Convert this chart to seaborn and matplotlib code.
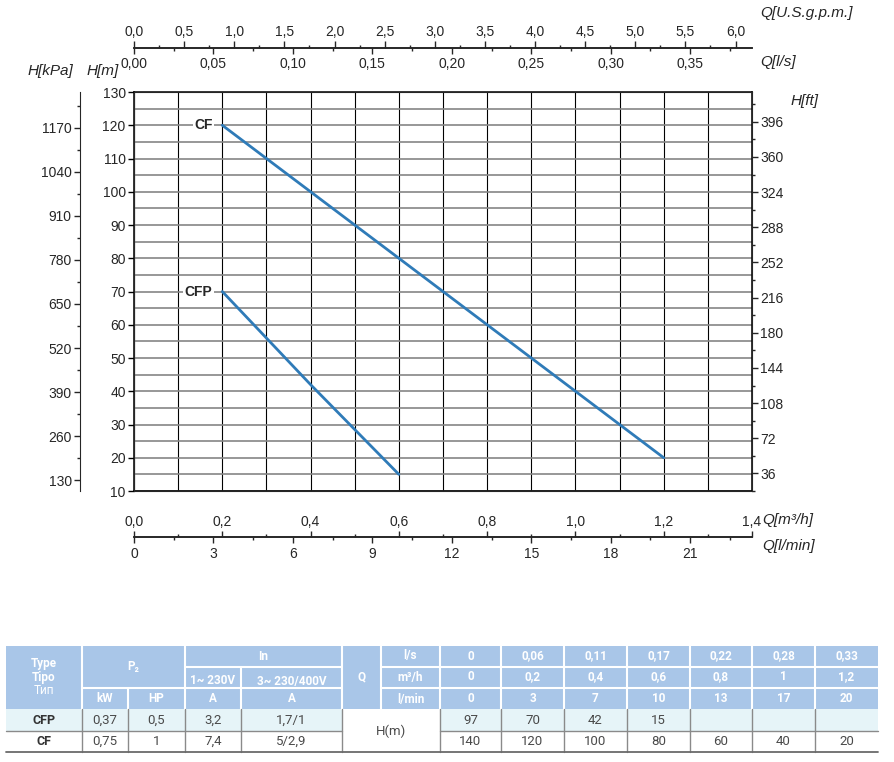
import numpy as np
import pandas as pd
import matplotlib
matplotlib.use('Agg')
import matplotlib.pyplot as plt
import seaborn as sns
from matplotlib.patches import Rectangle

# table / curve data
models = ['CFP', 'CF']
p2_kw = ['0,37', '0,75']
p2_hp = ['0,5', '1']
in_1ph = ['3,2', '7,4']
in_3ph = ['1,7/1', '5/2,9']
q_m3h = [0, 0.2, 0.4, 0.6, 0.8, 1.0, 1.2]
q_ls_lbl = ['0', '0,06', '0,11', '0,17', '0,22', '0,28', '0,33']
q_m3h_lbl = ['0', '0,2', '0,4', '0,6', '0,8', '1', '1,2']
q_lmin_lbl = ['0', '3', '7', '10', '13', '17', '20']
h_cfp = [97, 70, 42, 15, None, None, None]
h_cf = [140, 120, 100, 80, 60, 40, 20]

# axis scales
gpm_ticks = np.arange(0, 6.01, 0.5)
ls_ticks = np.arange(0, 0.351, 0.05)
m3h_ticks = np.arange(0, 1.41, 0.2)
lmin_ticks = np.arange(0, 22, 3)
kpa_ticks = np.arange(130, 1171, 130)
ft_ticks = np.arange(36, 397, 36)

GPM = 0.2271247   # m3/h per US gpm
LS = 3.6          # m3/h per l/s
LMIN = 0.06       # m3/h per l/min
KPA = 9.81        # kPa per m
FT = 3.2808       # ft per m

sns.set_style('ticks')
plt.rcParams['font.family'] = ['Liberation Sans', 'DejaVu Sans']

W, H = 894, 762
fig = plt.figure(figsize=(W / 100, H / 100), dpi=100)

def fx(px):
    return px / W

def fy(px):
    return 1 - px / H

def fmt(v, d):
    return f'{v:.{d}f}'.replace('.', ',')

L, R, T, B = 134, 752, 92, 491
ax = fig.add_axes([fx(L), fy(B), fx(R - L), (B - T) / H])

# curves, only the part inside the chart range
rows = []
for name, hs in zip(models, [h_cfp, h_cf]):
    for q, h in zip(q_m3h, hs):
        if h is not None and q >= 0.2:
            rows.append({'model': name, 'q': q, 'h': h})
df = pd.DataFrame(rows)
blue = '#2f7bb8'
sns.lineplot(data=df, x='q', y='h', hue='model', palette={'CF': blue, 'CFP': blue},
             legend=False, lw=2, ax=ax, zorder=5)
ax.set_xlim(0, 1.4)
ax.set_ylim(10, 130)
ax.set_xlabel('')
ax.set_ylabel('')
ax.set_xticks(np.arange(0, 1.41, 0.1))
ax.set_xticklabels([])
ax.tick_params(axis='x', length=0)
ax.set_yticks(np.arange(10, 131, 10))
ax.set_yticks(np.arange(15, 130, 10), minor=True)
ax.tick_params(axis='y', which='major', length=4, width=1, labelsize=10, pad=2, color='black')
ax.tick_params(axis='y', which='minor', length=0)
ax.grid(axis='x', color='black', lw=0.8)
ax.grid(axis='y', which='both', color='#858585', lw=1.2)
for s in ax.spines.values():
    s.set_color('black')
    s.set_linewidth(1.1)

for name, hs in zip(models, [h_cfp, h_cf]):
    ax.annotate(name, xy=(0.2, hs[1]), xytext=(-7, 0), textcoords='offset points',
                ha='right', va='center', fontsize=10, fontweight='bold', zorder=6,
                bbox=dict(fc='white', ec='none', pad=1))

# H[ft] on right
ax_ft = ax.twinx()
ax_ft.set_ylim(10 * FT, 130 * FT)
ax_ft.set_yticks(ft_ticks)
ax_ft.set_yticks(np.arange(18, 420, 36), minor=True)
ax_ft.set_yticklabels([str(int(v)) for v in ft_ticks])
ax_ft.tick_params(axis='y', which='major', length=4, width=1, labelsize=10, pad=2)
ax_ft.tick_params(axis='y', which='minor', length=2, width=1)
ax_ft.grid(False)

# H[kPa] on an outer left spine
ax_kpa = ax.twinx()
ax_kpa.set_ylim(10 * KPA, 130 * KPA)
ax_kpa.spines['left'].set_visible(True)
ax_kpa.spines['left'].set_position(('outward', (L - 80) * 0.72))
ax_kpa.spines['right'].set_visible(False)
ax_kpa.spines['top'].set_visible(False)
ax_kpa.spines['bottom'].set_visible(False)
ax_kpa.yaxis.set_ticks_position('left')
ax_kpa.yaxis.set_label_position('left')
ax_kpa.set_yticks(kpa_ticks)
ax_kpa.set_yticks(np.arange(195, 1280, 130), minor=True)
ax_kpa.set_yticklabels([str(int(v)) for v in kpa_ticks])
ax_kpa.tick_params(axis='y', which='major', length=4, width=1, labelsize=10, pad=2)
ax_kpa.tick_params(axis='y', which='minor', length=2, width=1)
ax_kpa.grid(False)


def line_axis(y_px, side):
    a = fig.add_axes([fx(L), fy(y_px), fx(R - L), 1e-6])
    a.set_xlim(0, 1.4)
    a.set_yticks([])
    a.patch.set_visible(False)
    for s in ['left', 'right', 'top', 'bottom']:
        a.spines[s].set_visible(s == side)
    a.spines[side].set_linewidth(1.2)
    a.xaxis.set_ticks_position(side)
    a.xaxis.set_label_position(side)
    a.grid(False)
    return a


ax_gpm = line_axis(48, 'top')
ax_gpm.set_xticks(gpm_ticks * GPM)
ax_gpm.set_xticklabels([fmt(v, 1) for v in gpm_ticks])
ax_gpm.set_xticks(np.arange(0.25, 6.1, 0.5) * GPM, minor=True)
ax_gpm.tick_params(which='major', length=5, width=1, labelsize=10, pad=1.5)
ax_gpm.tick_params(which='minor', length=2.5, width=1)

ax_ls = line_axis(48, 'bottom')
ax_ls.set_xticks(ls_ticks * LS)
ax_ls.set_xticklabels([fmt(v, 2) for v in ls_ticks])
ax_ls.set_xticks(np.arange(0.025, 0.38, 0.05) * LS, minor=True)
ax_ls.tick_params(which='major', length=4, width=1, labelsize=10, pad=2.5)
ax_ls.tick_params(which='minor', length=2.5, width=1)

ax_m3 = line_axis(537, 'top')
ax_m3.set_xticks(m3h_ticks)
ax_m3.set_xticklabels([fmt(v, 1) for v in m3h_ticks])
ax_m3.set_xticks(np.arange(0.1, 1.4, 0.2), minor=True)
ax_m3.tick_params(which='major', length=4, width=1, labelsize=10, pad=2)
ax_m3.tick_params(which='minor', length=2.5, width=1)

ax_lm = line_axis(537, 'bottom')
ax_lm.set_xticks(lmin_ticks * LMIN)
ax_lm.set_xticklabels([str(int(v)) for v in lmin_ticks])
ax_lm.set_xticks(np.arange(1.5, 23.4, 3) * LMIN, minor=True)
ax_lm.tick_params(which='major', length=4, width=1, labelsize=10, pad=3.5)
ax_lm.tick_params(which='minor', length=2.5, width=1)

# axis titles
unit_kw = dict(fontsize=11, style='italic', va='center')
fig.text(fx(28), fy(71), 'H[kPa]', ha='left', **unit_kw)
fig.text(fx(87), fy(71), 'H[m]', ha='left', **unit_kw)
fig.text(fx(760), fy(13), 'Q[U.S.g.p.m.]', ha='left', **unit_kw)
fig.text(fx(760), fy(62), 'Q[l/s]', ha='left', **unit_kw)
fig.text(fx(791), fy(101), 'H[ft]', ha='left', **unit_kw)
fig.text(fx(762), fy(520), 'Q[m³/h]', ha='left', **unit_kw)
fig.text(fx(762), fy(546), 'Q[l/min]', ha='left', **unit_kw)

# table
tab = fig.add_axes([0, 0, 1, 1], zorder=-1)
tab.set_xlim(0, W)
tab.set_ylim(H, 0)
tab.axis('off')

xe = [6, 82, 128, 185, 241, 342, 381, 440, 501, 564, 627, 690, 752, 815, 878]
ye = [646, 667, 688, 709, 731, 752]
hdr = '#a9c6e8'
tfont = ['Roboto', 'DejaVu Sans']

tab.add_patch(Rectangle((xe[0], ye[0]), xe[-1] - xe[0], ye[3] - ye[0], fc=hdr, ec='none'))
tab.add_patch(Rectangle((xe[0], ye[3]), xe[-1] - xe[0], ye[4] - ye[3], fc='#e6f4f8', ec='none'))
tab.add_patch(Rectangle((xe[5], ye[3]), xe[7] - xe[5], ye[5] - ye[3], fc='white', ec='none'))

wl = dict(color='white', lw=1.5)
for x in [82, 185, 342, 381] + xe[7:-1]:
    tab.plot([x, x], [ye[0], ye[3]], **wl)
tab.plot([128, 128], [ye[2], ye[3]], **wl)
tab.plot([241, 241], [ye[1], ye[3]], **wl)
tab.plot([82, 185], [ye[2], ye[2]], **wl)
tab.plot([185, 342], [ye[1], ye[1]], **wl)
tab.plot([185, 342], [ye[2], ye[2]], **wl)
tab.plot([381, 878], [ye[1], ye[1]], **wl)
tab.plot([381, 878], [ye[2], ye[2]], **wl)

gl = dict(color='#8a8a8a', lw=1)
for x in [82, 128, 185, 241, 342] + xe[7:-1]:
    tab.plot([x, x], [ye[3], ye[5]], **gl)
tab.plot([6, 342], [ye[4], ye[4]], **gl)
tab.plot([440, 878], [ye[4], ye[4]], **gl)
tab.plot([6, 878], [ye[5], ye[5]], color='#6a6a6a', lw=1.3)

def cell(x0, x1, y, s, color='white', bold=True, size=8.5):
    tab.text((x0 + x1) / 2, y, s, ha='center', va='center', color=color, fontsize=size,
             fontweight='bold' if bold else 'normal', family=tfont)

cell(6, 82, 664, 'Type')
cell(6, 82, 677, 'Tipo')
cell(6, 82, 690, 'Тип', bold=False)
cell(82, 185, 667, 'P₂')
cell(82, 128, 699, 'kW')
cell(128, 185, 699, 'HP')
cell(185, 342, 656, 'In')
cell(185, 241, 681, '1~ 230V')
cell(241, 342, 681, '3~ 230/400V')
cell(185, 241, 699, 'A')
cell(241, 342, 699, 'A')
cell(342, 381, 677, 'Q')
for y, s in zip([656, 677, 699], ['l/s', 'm³/h', 'l/min']):
    cell(381, 440, y, s)
for i in range(len(q_m3h)):
    cell(xe[7 + i], xe[8 + i], 656, q_ls_lbl[i])
    cell(xe[7 + i], xe[8 + i], 677, q_m3h_lbl[i])
    cell(xe[7 + i], xe[8 + i], 699, q_lmin_lbl[i])

grey = '#4a4a4a'
for r, name in enumerate(models):
    y = (ye[3 + r] + ye[4 + r]) / 2
    cell(6, 82, y, name, color='#333333', bold=True, size=9)
    cell(82, 128, y, p2_kw[r], color=grey, bold=False, size=9.5)
    cell(128, 185, y, p2_hp[r], color=grey, bold=False, size=9.5)
    cell(185, 241, y, in_1ph[r], color=grey, bold=False, size=9.5)
    cell(241, 342, y, in_3ph[r], color=grey, bold=False, size=9.5)
    hs = [h_cfp, h_cf][r]
    for i, h in enumerate(hs):
        if h is not None:
            cell(xe[7 + i], xe[8 + i], y, str(h), color=grey, bold=False, size=9.5)
cell(342, 440, 731, 'H(m)', color=grey, bold=False, size=9.5)

fig.savefig('out.png', dpi=100)
